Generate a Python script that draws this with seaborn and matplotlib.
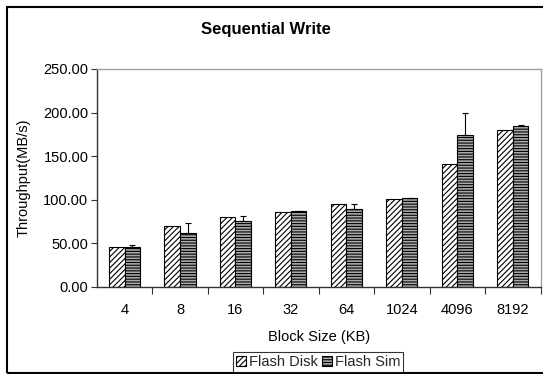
import matplotlib
matplotlib.use("Agg")
import matplotlib.pyplot as plt
import matplotlib.patches as mpatches
from matplotlib.ticker import FixedLocator, FormatStrFormatter
import seaborn as sns
import pandas as pd
import numpy as np

categories = ["4", "8", "16", "32", "64", "1024", "4096", "8192"]
flash_disk = [45.9, 69.3, 79.6, 86.1, 94.6, 100.3, 140.5, 180.3]
flash_sim = [45.2, 61.3, 75.0, 86.9, 89.6, 101.5, 174.6, 184.1]
flash_sim_err_up = [2.3, 11.4, 5.8, 0.4, 5.7, 0.3, 25.2, 1.9]
series = ["Flash Disk", "Flash Sim"]

df = pd.DataFrame({
    "Block Size (KB)": categories * 2,
    "series": [series[0]] * len(categories) + [series[1]] * len(categories),
    "value": flash_disk + flash_sim,
})

sns.set_theme(style="white")
plt.rcParams["font.family"] = ["Liberation Sans", "DejaVu Sans"]
plt.rcParams["hatch.linewidth"] = 0.8
plt.rcParams["hatch.color"] = "black"

fig = plt.figure(figsize=(5.43, 3.74), dpi=100)
ax = fig.add_axes([96.8 / 543, 1 - 286.7 / 374, (540.5 - 96.8) / 543, (286.7 - 69) / 374])

sns.barplot(data=df, x="Block Size (KB)", y="value", hue="series",
            hue_order=series, order=categories, palette=["white", "#aaaaaa"],
            edgecolor="black", linewidth=0.8, width=0.56, errorbar=None,
            ax=ax, legend=False)

hatches = ["//////", "------"]
for cont, h in zip(ax.containers, hatches):
    for p in cont:
        p.set_hatch(h)
        p.set_edgecolor("black")

# upper-only error bars on Flash Sim
sim_bars = ax.containers[1]
xs = [p.get_x() + p.get_width() / 2 for p in sim_bars]
ax.errorbar(xs, flash_sim, yerr=[np.zeros(len(flash_sim)), flash_sim_err_up],
            fmt="none", ecolor="black", elinewidth=0.8, capsize=2.5, capthick=0.8)

ax.set_ylim(0, 250)
ax.set_xlim(-0.5, len(categories) - 0.5)
ax.yaxis.set_major_locator(FixedLocator([0, 50, 100, 150, 200, 250]))
ax.yaxis.set_major_formatter(FormatStrFormatter("%.2f"))
ax.tick_params(axis="y", which="major", left=True, direction="out", length=4,
               width=0.8, color="#333333", labelsize=10.5, pad=2, labelcolor="black")
ax.set_xticks(np.arange(len(categories)))
ax.set_xticklabels(categories)
ax.set_xticks(np.arange(len(categories)) + 0.5, minor=True)
ax.tick_params(axis="x", which="major", length=0, labelsize=10.5, pad=12, labelcolor="black")
ax.tick_params(axis="x", which="minor", bottom=True, direction="out", length=5,
               width=0.8, color="#333333")

for s in ["left", "bottom"]:
    ax.spines[s].set_color("#333333")
    ax.spines[s].set_linewidth(1.0)
for s in ["top", "right"]:
    ax.spines[s].set_color("#a0a0a0")
    ax.spines[s].set_linewidth(1.0)

ax.set_xlabel("Block Size (KB)", fontsize=10.5, labelpad=9, color="black")
ax.set_ylabel("Throughput(MB/s)", fontsize=10.5, labelpad=9, color="black")

fig.text(266 / 543, 1 - 29.5 / 374, "Sequential Write", ha="center", va="center",
         fontsize=12, fontweight="bold", color="black")

handles = [ax.containers[0][0], ax.containers[1][0]]
leg = fig.legend(handles, series, loc="lower center", ncol=2,
                 bbox_to_anchor=(318 / 543, 2 / 374), fontsize=10.5,
                 frameon=True, fancybox=False, edgecolor="black",
                 handlelength=0.7, handleheight=0.7, handletextpad=0.2,
                 columnspacing=0.3, borderpad=0.2, borderaxespad=0)
leg.get_frame().set_linewidth(0.8)

border = mpatches.Rectangle((6.5 / 543, 1.5 / 374), 1.05, 1 - 8 / 374,
                            transform=fig.transFigure, fill=False,
                            edgecolor="black", linewidth=1.5, clip_on=False)
fig.patches.append(border)

fig.savefig("out.png", dpi=100)
